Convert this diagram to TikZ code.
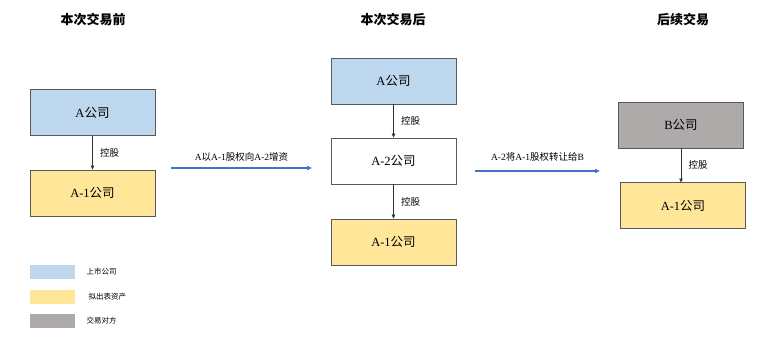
\documentclass[tikz,border=0pt]{standalone}
\usepackage{fontspec}
\setmainfont{Liberation Serif}
\newfontfamily\cjk{Noto Sans CJK SC}
\usetikzlibrary{arrows.meta}
\definecolor{lblue}{HTML}{BDD7EE}
\definecolor{lyellow}{HTML}{FFE699}
\definecolor{lgrey}{HTML}{AEAAAA}
\definecolor{arrblue}{HTML}{4472C4}
\definecolor{bordc}{HTML}{595959}
\newcommand\lt[1]{{\rmfamily #1}}
\begin{document}
\begin{tikzpicture}[x=1pt,y=-1pt,
  company/.style={draw=bordc, line width=0.8pt, minimum width=125pt, minimum height=46pt, inner sep=0pt, font=\cjk\fontsize{12.5}{14}\selectfont},
  ctrl/.style={draw=black!80, line width=0.6pt, -{Triangle[length=4pt,width=3.5pt]}},
  ctrllbl/.style={font=\cjk\fontsize{9.5}{11}\selectfont, anchor=west},
  bigarrow/.style={draw=arrblue, line width=1.3pt, -{Triangle[length=5pt,width=4pt]}},
  biglbl/.style={font=\cjk\fontsize{9.5}{11}\selectfont},
  title/.style={font=\cjk\bfseries\fontsize{13}{15}\selectfont},
  swatch/.style={minimum width=45pt, minimum height=14pt, inner sep=0pt},
  leglbl/.style={font=\cjk\fontsize{7.5}{9}\selectfont, anchor=west}
]
\useasboundingbox (0,0) rectangle (760,351);
% titles
\node[title] (t1) at (93,20) {本次交易前};
\node[title] (t2) at (393,20) {本次交易后};
\node[title] (t3) at (683,20) {后续交易};
% left column
\node[company, fill=lblue] (la) at (92.5,112.5) {\lt{A}公司};
\node[company, fill=lyellow] (la1) at (92.5,193) {\lt{A-1}公司};
\draw[ctrl] (la) -- (la1) node[ctrllbl, midway, xshift=4pt] {控股};
% middle column
\node[company, fill=lblue] (ma) at (393.5,81) {\lt{A}公司};
\node[company, fill=white] (ma2) at (393.5,161) {\lt{A-2}公司};
\node[company, fill=lyellow] (ma1) at (393.5,242) {\lt{A-1}公司};
\draw[ctrl] (ma) -- (ma2) node[ctrllbl, midway, xshift=4pt] {控股};
\draw[ctrl] (ma2) -- (ma1) node[ctrllbl, midway, xshift=4pt] {控股};
% right column
\node[company, fill=lgrey] (rb) at (681,125) {\lt{B}公司};
\node[company, fill=lyellow] (ra1) at (683,205.5) {\lt{A-1}公司};
\coordinate (rbs) at (681,148);
\coordinate (rbe) at (681,182.5);
\draw[ctrl] (rbs) -- (rbe) node[ctrllbl, midway, xshift=4pt] {控股};
% big arrows
\coordinate (a1s) at (171,168);
\coordinate (a1e) at (312,168);
\draw[bigarrow] (a1s) -- (a1e) node[biglbl, midway, above=3pt] {\lt{A}以\lt{A-1}股权向\lt{A-2}增资};
\coordinate (a2s) at (475,171);
\coordinate (a2e) at (600,171);
\draw[bigarrow] (a2s) -- (a2e) node[biglbl, midway, above=6pt] {\lt{A-2}将\lt{A-1}股权转让给\lt{B}};
% legend
\node[swatch, fill=lblue] (s1) at (52.5,272) {};
\node[swatch, fill=lyellow] (s2) at (52.5,297) {};
\node[swatch, fill=lgrey] (s3) at (52.5,321) {};
\node[leglbl] (l1) at (83,272) {上市公司};
\node[leglbl] (l2) at (85,297) {拟出表资产};
\node[leglbl] (l3) at (83,321) {交易对方};
\end{tikzpicture}
\end{document}
